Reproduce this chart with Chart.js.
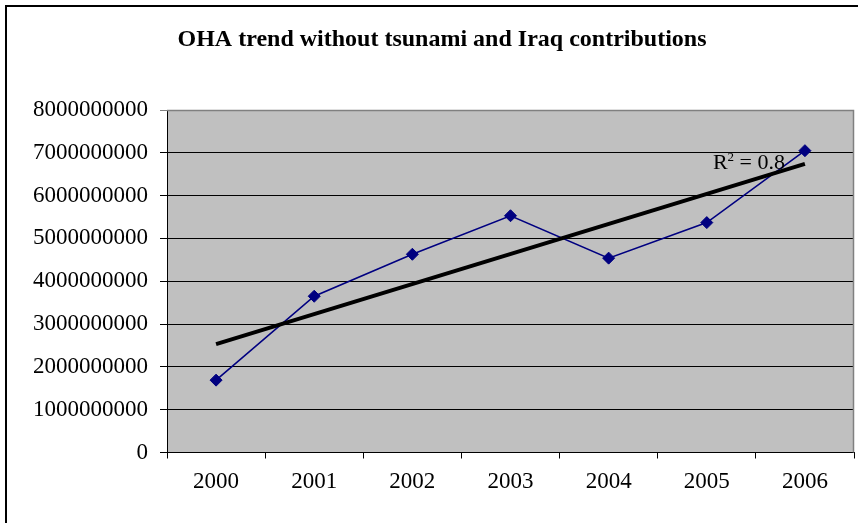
<!DOCTYPE html>
<html>
<head>
<meta charset="utf-8">
<script src="https://cdn.jsdelivr.net/npm/chart.js@4/dist/chart.umd.min.js"></script>
<style>
  html, body { margin: 0; padding: 0; background: #fff; width: 858px; height: 523px; overflow: hidden; }
  #frame { position: absolute; left: 5px; top: 5px; border: 2px solid #000; width: 870px; height: 540px; background: #fff; }
  canvas { display: block; }
</style>
</head>
<body>
<div id="frame"><canvas id="c" width="870" height="540"></canvas></div>
<script>
const chartTitle = 'OHA trend without tsunami and Iraq contributions';
const years = ['2000', '2001', '2002', '2003', '2004', '2005', '2006'];
const ohaValues = [1690000000, 3650000000, 4630000000, 5530000000, 4540000000, 5370000000, 7050000000];
const trendValues = [2530000000, null, null, null, null, null, 6740000000];
const yTickLabels = ['0', '1000000000', '2000000000', '3000000000', '4000000000', '5000000000', '6000000000', '7000000000', '8000000000'];
const rSquaredLabel = { main: 'R', sup: '2', rest: ' = 0.8' };

const serif = "'Liberation Serif', 'Times New Roman', serif";

const plotBg = {
  id: 'plotBg',
  beforeDraw(chart) {
    const { ctx, chartArea: a } = chart;
    ctx.save();
    ctx.fillStyle = '#C0C0C0';
    ctx.fillRect(a.left, a.top, a.right - a.left, a.bottom - a.top);
    ctx.restore();
  },
  beforeDatasetsDraw(chart) {
    const { ctx, chartArea: a } = chart;
    ctx.save();
    ctx.strokeStyle = '#808080';
    ctx.lineWidth = 1.5;
    ctx.beginPath();
    ctx.moveTo(a.left, a.top + 0.5);
    ctx.lineTo(a.right - 0.5, a.top + 0.5);
    ctx.lineTo(a.right - 0.5, a.bottom);
    ctx.stroke();
    ctx.restore();
  }
};

const r2Label = {
  id: 'r2Label',
  afterDatasetsDraw(chart) {
    const { ctx } = chart;
    const xs = chart.scales.x, ys = chart.scales.y;
    const x = xs.getPixelForValue(6) - 92;
    const y = ys.getPixelForValue(trendValues[6]) + 5;
    ctx.save();
    ctx.fillStyle = '#000';
    ctx.textBaseline = 'alphabetic';
    ctx.textAlign = 'left';
    ctx.font = "22px " + serif;
    ctx.fillText(rSquaredLabel.main, x, y);
    let w = ctx.measureText(rSquaredLabel.main).width;
    ctx.font = "13px " + serif;
    ctx.fillText(rSquaredLabel.sup, x + w, y - 8);
    w += ctx.measureText(rSquaredLabel.sup).width;
    ctx.font = "22px " + serif;
    ctx.fillText(rSquaredLabel.rest, x + w, y);
    ctx.restore();
  }
};

new Chart(document.getElementById('c'), {
  type: 'line',
  data: {
    labels: years,
    datasets: [
      {
        label: 'Trend',
        data: trendValues,
        spanGaps: true,
        borderColor: '#000',
        borderWidth: 4,
        pointRadius: 0,
        pointHoverRadius: 0,
        fill: false,
        tension: 0
      },
      {
        label: 'OHA',
        data: ohaValues,
        borderColor: '#000080',
        borderWidth: 1.6,
        pointStyle: 'rectRot',
        pointRadius: 6,
        pointBackgroundColor: '#000080',
        pointBorderColor: '#000080',
        pointBorderWidth: 1,
        fill: false,
        tension: 0
      }
    ]
  },
  options: {
    responsive: false,
    animation: false,
    events: [],
    layout: { padding: { left: 0, right: 0, top: 0, bottom: 0 } },
    plugins: {
      legend: { display: false },
      tooltip: { enabled: false },
      title: {
        display: true,
        text: chartTitle,
        color: '#000',
        font: { family: serif, size: 24, weight: 'bold', lineHeight: 1.2 },
        padding: { top: 18.3, bottom: 55.9 }
      }
    },
    scales: {
      x: {
        type: 'category',
        offset: true,
        grid: { display: true, offset: true, drawOnChartArea: false, drawTicks: true, tickLength: 6, color: '#000', lineWidth: 1 },
        border: { display: true, color: '#000', width: 1 },
        ticks: { color: '#000', font: { family: serif, size: 23 }, padding: 10, maxRotation: 0, autoSkip: false },
        afterFit(scale) { scale.height = 94.5; }
      },
      y: {
        min: 0,
        max: 8000000000,
        grid: {
          display: true, drawTicks: true, tickLength: 7, lineWidth: 1,
          color: (c) => (c.tick && c.tick.value === 8000000000 ? '#808080' : '#000')
        },
        border: { display: true, color: '#000', width: 1 },
        ticks: {
          stepSize: 1000000000,
          color: '#000',
          padding: 12,
          font: { family: serif, size: 23 },
          callback: (v, i) => yTickLabels[i]
        },
        afterFit(scale) { scale.width = 160; }
      },
      rightSpace: {
        type: 'linear',
        axis: 'y',
        position: 'right',
        display: true,
        grid: { display: false, drawTicks: false },
        border: { display: false },
        ticks: { display: false },
        afterFit(scale) { scale.width = 23; }
      }
    }
  },
  plugins: [plotBg, r2Label]
});
</script>
</body>
</html>
